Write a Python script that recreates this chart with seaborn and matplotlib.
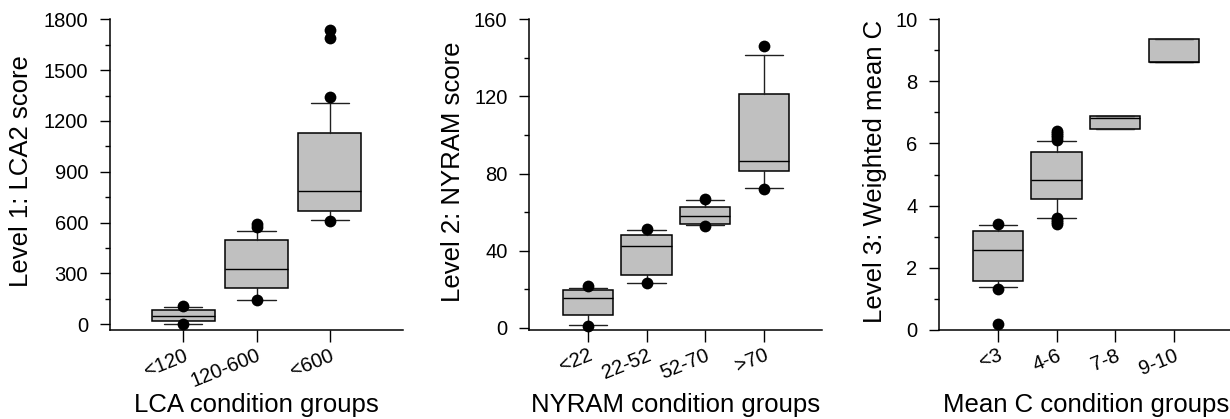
import matplotlib
matplotlib.use("Agg")
import matplotlib.pyplot as plt
from matplotlib.ticker import MultipleLocator
import seaborn as sns
import pandas as pd

# ---------------- data ----------------
cats1 = ["<120", "120-600", "<600"]
q1_1 = [18, 213, 667]
med_1 = [50, 325, 788]
q3_1 = [81, 499, 1126]
wlo_1 = [3, 140, 614]
whi_1 = [100, 549, 1304]
out_1 = [[110, 0], [593, 573, 140], [1739, 1692, 1343, 612]]

cats2 = ["<22", "22-52", "52-70", ">70"]
q1_2 = [6.9, 27.4, 54.0, 81.1]
med_2 = [15.4, 42.5, 58.2, 86.3]
q3_2 = [19.7, 48.3, 62.5, 121.2]
wlo_2 = [1.6, 23.3, 53.2, 72.3]
whi_2 = [20.7, 50.7, 66.1, 141.7]
out_2 = [[21.6, 1.0], [51.1, 23.1], [67.0, 52.8], [146.0, 72.1]]

cats3 = ["<3", "4-6", "7-8", "9-10"]
q1_3 = [1.57, 4.20, 6.48, 8.63]
med_3 = [2.57, 4.83, 6.81, 8.63]
q3_3 = [3.17, 5.74, 6.88, 9.37]
wlo_3 = [1.38, 3.61, 6.48, 8.63]
whi_3 = [3.39, 6.09, 6.88, 9.37]
out_3 = [[3.42, 1.32, 0.19],
         [6.12, 6.20, 6.28, 6.35, 6.40, 3.40, 3.46, 3.53, 3.60],
         [], []]

panels = [
    dict(cats=cats1, q1=q1_1, med=med_1, q3=q3_1, wlo=wlo_1, whi=whi_1, out=out_1,
         ylabel="Level 1: LCA2 score", xlabel="LCA condition groups",
         ylim=(-33, 1800), major=300, minor=150, cap=0.52, ylx=-0.263),
    dict(cats=cats2, q1=q1_2, med=med_2, q3=q3_2, wlo=wlo_2, whi=whi_2, out=out_2,
         ylabel="Level 2: NYRAM score", xlabel="NYRAM condition groups",
         ylim=(-1, 160), major=40, minor=20, cap=0.65, ylx=-0.22),
    dict(cats=cats3, q1=q1_3, med=med_3, q3=q3_3, wlo=wlo_3, whi=whi_3, out=out_3,
         ylabel="Level 3: Weighted mean C", xlabel="Mean C condition groups",
         ylim=(0, 10), major=2, minor=1, cap=0.65, ylx=-0.18),
]

# ---------------- style ----------------
sns.set_style("ticks")
plt.rcParams["font.family"] = ["Liberation Sans", "DejaVu Sans"]
plt.rcParams["axes.linewidth"] = 1.1
for k in ["text.color", "axes.labelcolor", "xtick.color", "ytick.color",
          "xtick.labelcolor", "ytick.labelcolor", "axes.edgecolor"]:
    plt.rcParams[k] = "black"

fig = plt.figure(figsize=(12.3, 4.19), dpi=100)
lefts = [110 / 1230, 529.3 / 1230, 939.3 / 1230]
W = 293 / 1230
B = (419 - 329.8) / 419
H = 310.5 / 419

for left, p in zip(lefts, panels):
    ax = fig.add_axes([left, B, W, H])
    n = len(p["cats"])
    pos = list(range(n))
    stats = []
    for i in range(n):
        stats.append(dict(q1=p["q1"][i], med=p["med"][i], q3=p["q3"][i],
                          whislo=p["wlo"][i], whishi=p["whi"][i], fliers=[]))
    ax.bxp(stats, positions=pos, widths=0.86, capwidths=p["cap"],
           patch_artist=True, showfliers=False,
           boxprops=dict(facecolor="#c0c0c0", edgecolor="black", linewidth=1.1),
           medianprops=dict(color="black", linewidth=1.0),
           whiskerprops=dict(color="#202020", linewidth=1.0),
           capprops=dict(color="#202020", linewidth=1.0))
    ox, oy = [], []
    for i, vals in enumerate(p["out"]):
        for v in vals:
            ox.append(pos[i])
            oy.append(v)
    df = pd.DataFrame({"x": ox, "y": oy})
    sns.scatterplot(data=df, x="x", y="y", ax=ax, color="black", s=72,
                    linewidth=0, zorder=5, legend=False, clip_on=False)

    ax.set_xlim(-1, n)
    ax.set_ylim(*p["ylim"])
    ax.yaxis.set_major_locator(MultipleLocator(p["major"]))
    ax.yaxis.set_minor_locator(MultipleLocator(p["minor"]))
    ax.set_xticks(pos)
    ax.set_xticklabels(p["cats"], rotation=22, ha="right", va="top",
                       rotation_mode="anchor")
    ax.tick_params(axis="y", which="major", length=7.2, width=1.0, labelsize=14.5,
                   pad=8.5, direction="out", colors="black")
    ax.tick_params(axis="y", which="minor", length=3.6, width=1.0, direction="out",
                   colors="black")
    ax.tick_params(axis="x", which="major", length=8.5, width=1.0, labelsize=14.5,
                   pad=3, direction="out", colors="black")
    ax.set_xlabel(p["xlabel"], fontsize=18.5, color="black")
    ax.set_ylabel(p["ylabel"], fontsize=18.5, color="black")
    ax.xaxis.set_label_coords(0.5, -0.205)
    ax.yaxis.set_label_coords(p["ylx"], 0.51)
    sns.despine(ax=ax)
    for s in ["left", "bottom"]:
        ax.spines[s].set_color("black")

fig.savefig("out.png", dpi=100)
